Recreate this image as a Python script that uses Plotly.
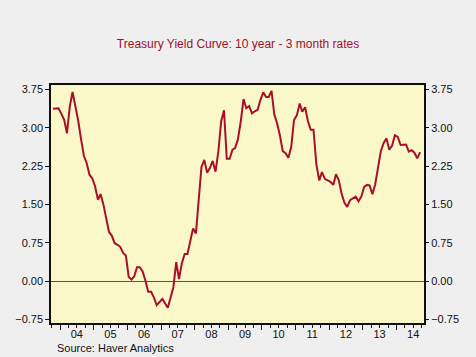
import plotly.graph_objects as go

title = "Treasury Yield Curve: 10 year - 3 month rates"
source = "Source: Haver Analytics"

start_year, start_month = 2003, 10
spread = [
    3.37, 3.37, 3.38,                                                   # 2003 Oct-Dec
    3.27, 3.15, 2.89, 3.41, 3.70, 3.44, 3.14, 2.78, 2.45, 2.31, 2.08, 2.01,  # 2004
    1.85, 1.59, 1.70, 1.50, 1.24, 0.96, 0.89, 0.74, 0.71, 0.67, 0.55, 0.50,  # 2005
    0.08, 0.03, 0.09, 0.27, 0.27, 0.19, 0.01, -0.21, -0.21, -0.32, -0.47, -0.41,  # 2006
    -0.35, -0.44, -0.52, -0.32, -0.12, 0.37, 0.04, 0.35, 0.53, 0.53, 0.80, 1.03,  # 2007
    0.93, 1.57, 2.23, 2.37, 2.12, 2.21, 2.35, 2.14, 2.54, 3.12, 3.34, 2.39,  # 2008
    2.39, 2.57, 2.60, 2.77, 3.11, 3.56, 3.38, 3.42, 3.28, 3.32, 3.35, 3.54,  # 2009
    3.69, 3.60, 3.60, 3.72, 3.26, 3.08, 2.85, 2.54, 2.50, 2.41, 2.62, 3.15,  # 2010
    3.24, 3.47, 3.31, 3.40, 3.13, 2.96, 2.96, 2.28, 1.97, 2.13, 2.00, 1.97,  # 2011
    1.94, 1.88, 2.09, 1.97, 1.71, 1.53, 1.45, 1.58, 1.61, 1.65, 1.56, 1.65,  # 2012
    1.84, 1.88, 1.87, 1.70, 1.89, 2.25, 2.54, 2.70, 2.79, 2.57, 2.65, 2.85,  # 2013
    2.82, 2.66, 2.67, 2.67, 2.53, 2.56, 2.51, 2.40, 2.52,               # 2014 Jan-Sep
]
year_labels = ["04", "05", "06", "07", "08", "09", "10", "11", "12", "13", "14"]
y_ticks = [-0.75, 0.00, 0.75, 1.50, 2.25, 3.00, 3.75]

dates = []
y, m = start_year, start_month
for _ in spread:
    dates.append(f"{y:04d}-{m:02d}-15")
    m += 1
    if m > 12:
        m, y = 1, y + 1

years = [2004 + i for i in range(len(year_labels))]
label_pos = [f"{yr}-07-01" for yr in years]
year_starts = [f"{yr}-01-01" for yr in years] + ["2015-01-01"]

x_range = ["2003-09-24", "2014-10-27"]
y_range = [-0.82, 3.834]

red = "#a8102a"
fnt = "Liberation Sans, Arial, sans-serif"

fig = go.Figure()
fig.add_trace(go.Scatter(x=dates, y=spread, mode="lines",
                         line=dict(color=red, width=2), hoverinfo="skip", showlegend=False))
fig.add_trace(go.Scatter(x=dates, y=spread, mode="lines", xaxis="x2", yaxis="y2",
                         line=dict(color="rgba(0,0,0,0)", width=0), hoverinfo="skip", showlegend=False))

fig.update_layout(
    width=476, height=357,
    margin=dict(l=51, r=52, t=85, b=34),
    paper_bgcolor="#efefef",
    plot_bgcolor="#faf8c8",
    font=dict(family=fnt, size=11, color="#111111"),
    title=dict(text=title, x=0.5, xanchor="center", y=0.878, yanchor="middle",
               font=dict(family=fnt, size=12, color="#a0102a")),
    xaxis=dict(type="date", range=x_range, tickvals=label_pos, ticktext=year_labels,
               ticks="", showgrid=False, zeroline=False,
               showline=True, linecolor="#111111", linewidth=1.5, mirror=True,
               tickfont=dict(size=11), ticklabelstandoff=0,
               minor=dict(ticks="outside", dtick="M3", tick0="2000-01-01",
                          ticklen=3, tickcolor="#111111", tickwidth=1, showgrid=False)),
    xaxis2=dict(type="date", range=x_range, overlaying="x", side="bottom",
                tickvals=year_starts, ticks="outside", ticklen=6, tickcolor="#111111",
                showticklabels=False, showgrid=False, zeroline=False, showline=False),
    yaxis=dict(range=y_range, tickvals=y_ticks, tickformat=".2f", ticks="outside",
               ticklen=4, tickcolor="#111111", showgrid=False,
               zeroline=True, zerolinecolor="#555555", zerolinewidth=1,
               showline=True, linecolor="#111111", linewidth=1.5, mirror=True,
               tickfont=dict(size=11)),
    yaxis2=dict(range=y_range, tickvals=y_ticks, tickformat=".2f", ticks="outside",
                ticklen=4, tickcolor="#111111", overlaying="y", side="right",
                showgrid=False, zeroline=False, showline=False,
                tickfont=dict(size=11)),
    annotations=[dict(text=source, xref="paper", yref="paper", x=0.011, y=-0.105,
                      xanchor="left", yanchor="middle", showarrow=False,
                      font=dict(family=fnt, size=11, color="#111111"))],
)

fig.write_html("out.html", config={"displayModeBar": False},
               post_script="document.body.style.margin='0';document.body.style.overflow='hidden';")
